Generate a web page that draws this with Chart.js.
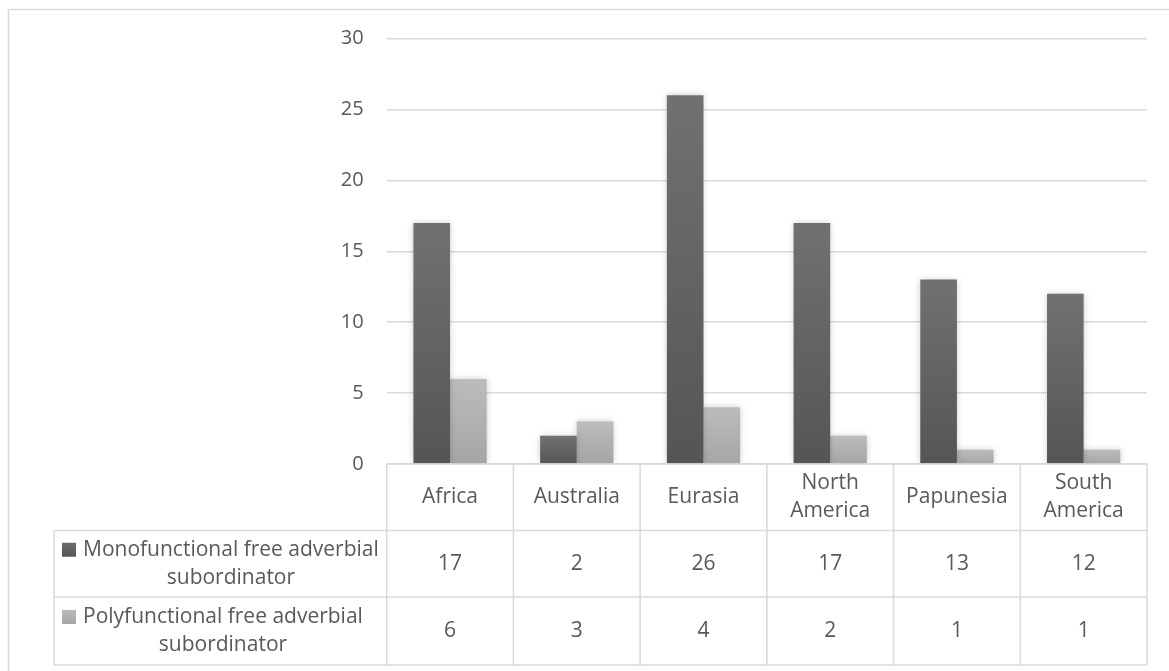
<!DOCTYPE html>
<html>
<head>
<meta charset="utf-8">
<title>Free adverbial subordinators by macro-area</title>
<script src="https://cdn.jsdelivr.net/npm/chart.js@4.4.1/dist/chart.umd.min.js"></script>
<style>
  html, body { margin: 0; padding: 0; background: #ffffff; }
  #wrap { position: relative; width: 1169px; height: 671px; }
  canvas { display: block; }
</style>
</head>
<body>
<div id="wrap"><canvas id="chart" width="1169" height="671"></canvas></div>
<script>
// Macro-areas (table header cells may break over two lines)
const areas = ['Africa', 'Australia', 'Eurasia', 'North America', 'Papunesia', 'South America'];
const areaLines = [['Africa'], ['Australia'], ['Eurasia'], ['North', 'America'], ['Papunesia'], ['South', 'America']];

// Series
const seriesNames = ['Monofunctional free adverbial subordinator', 'Polyfunctional free adverbial subordinator'];
const seriesNameLines = [['Monofunctional free adverbial', 'subordinator'], ['Polyfunctional free adverbial', 'subordinator']];
const monofunctional = [17, 2, 26, 17, 13, 12];
const polyfunctional = [6, 3, 4, 2, 1, 1];

// Value axis
const yMin = 0, yMax = 30, yStep = 5;

const FONT = '"Open Sans", "Noto Sans", sans-serif';
const TEXT = '#595959';
const LINE = '#d9d9d9';

// Vertical gradient per bar, lighter at the top
function barGradient(top, bottom) {
  return function (ctx) {
    const chart = ctx.chart;
    if (!chart.chartArea || ctx.type !== 'data') return bottom;
    const y = chart.scales.y;
    const y0 = y.getPixelForValue(ctx.raw);
    const y1 = y.getPixelForValue(0);
    if (!isFinite(y0) || !isFinite(y1) || y0 === y1) return bottom;
    const g = chart.ctx.createLinearGradient(0, y0, 0, y1);
    g.addColorStop(0, top);
    g.addColorStop(1, bottom);
    return g;
  };
}

// Soft glow around the bars
const barGlow = {
  id: 'barGlow',
  beforeDatasetsDraw(chart) {
    const c = chart.ctx;
    c.save();
    c.shadowColor = 'rgba(0,0,0,0.2)';
    c.shadowBlur = 6;
    c.shadowOffsetX = 0;
    c.shadowOffsetY = 0;
  },
  afterDatasetsDraw(chart) {
    chart.ctx.restore();
  }
};

// Outer frame of the chart object
const frame = {
  id: 'frame',
  beforeDraw(chart) {
    const c = chart.ctx;
    c.save();
    c.strokeStyle = LINE;
    c.lineWidth = 1.5;
    c.beginPath();
    c.moveTo(8.5, chart.height + 2);
    c.lineTo(8.5, 9.5);
    c.lineTo(chart.width + 2, 9.5);
    c.stroke();
    c.restore();
  }
};

// Data table under the plot area
const dataTable = {
  id: 'dataTable',
  afterDraw(chart) {
    const c = chart.ctx;
    const xs = chart.scales.x;
    const area = chart.chartArea;
    const n = areas.length;
    const colW = (area.right - area.left) / n;
    const left = area.left;
    const right = area.right;
    const legendLeft = 54;
    const rowTop = [area.bottom, 530.5, 597, 665];

    c.save();
    c.strokeStyle = LINE;
    c.lineWidth = 1.5;
    c.beginPath();
    // horizontal rules
    c.moveTo(left, rowTop[0]); c.lineTo(right, rowTop[0]);
    for (let r = 1; r < rowTop.length; r++) {
      c.moveTo(legendLeft, rowTop[r]); c.lineTo(right, rowTop[r]);
    }
    // vertical rules
    for (let i = 0; i <= n; i++) {
      const x = left + i * colW;
      c.moveTo(x, rowTop[0]); c.lineTo(x, rowTop[3]);
    }
    c.moveTo(legendLeft, rowTop[1]); c.lineTo(legendLeft, rowTop[3]);
    c.stroke();

    c.fillStyle = TEXT;
    c.font = '21px ' + FONT;
    c.textAlign = 'center';
    c.textBaseline = 'middle';

    // header: macro-area names
    const lh = 28;
    areaLines.forEach((lines, i) => {
      const cx = xs.getPixelForValue(i);
      const cy = (rowTop[0] + rowTop[1]) / 2;
      const y0 = cy - (lines.length - 1) * lh / 2;
      lines.forEach((t, k) => c.fillText(t, cx, y0 + k * lh));
    });

    // value rows
    const rows = [monofunctional, polyfunctional];
    rows.forEach((vals, r) => {
      const cy = (rowTop[r + 1] + rowTop[r + 2]) / 2;
      vals.forEach((v, i) => c.fillText(String(v), xs.getPixelForValue(i), cy));
    });

    // legend keys and series names
    const keyColors = [['#6c6c6c', '#555555'], ['#bababa', '#a6a6a6']];
    seriesNameLines.forEach((lines, r) => {
      const cy = (rowTop[r + 1] + rowTop[r + 2]) / 2;
      const y1 = cy - 14, y2 = cy + 14;
      const kx = 62, ks = 14;
      const g = c.createLinearGradient(0, y1 - ks / 2, 0, y1 + ks / 2);
      g.addColorStop(0, keyColors[r][0]);
      g.addColorStop(1, keyColors[r][1]);
      c.fillStyle = g;
      c.fillRect(kx, y1 - ks / 2, ks, ks);
      c.fillStyle = TEXT;
      c.textAlign = 'left';
      const tx = 83;
      c.fillText(lines[0], tx, y1);
      const w = c.measureText(lines[0]).width;
      c.textAlign = 'center';
      c.fillText(lines[1], tx + w / 2, y2);
    });
    c.restore();
  }
};

new Chart(document.getElementById('chart'), {
  type: 'bar',
  data: {
    labels: areas,
    datasets: [
      {
        label: seriesNames[0],
        data: monofunctional,
        backgroundColor: barGradient('#717171', '#555555'),
        borderWidth: 0,
        barPercentage: 1,
        categoryPercentage: 0.578
      },
      {
        label: seriesNames[1],
        data: polyfunctional,
        backgroundColor: barGradient('#bcbcbc', '#a5a5a5'),
        borderWidth: 0,
        barPercentage: 1,
        categoryPercentage: 0.578
      }
    ]
  },
  options: {
    responsive: false,
    animation: false,
    events: [],
    layout: { padding: { top: 38.5, right: 22, bottom: 207, left: 0 } },
    plugins: {
      legend: { display: false },
      tooltip: { enabled: false },
      title: { display: false }
    },
    scales: {
      x: {
        display: false,
        offset: true
      },
      y: {
        min: yMin,
        max: yMax,
        border: { display: false },
        grid: { color: LINE, lineWidth: 1.5, drawTicks: false },
        ticks: {
          stepSize: yStep,
          color: TEXT,
          padding: 23,
          font: { family: FONT, size: 20 }
        },
        afterFit(scale) { scale.width = 386.7; }
      }
    }
  },
  plugins: [frame, barGlow, dataTable]
});
</script>
</body>
</html>
